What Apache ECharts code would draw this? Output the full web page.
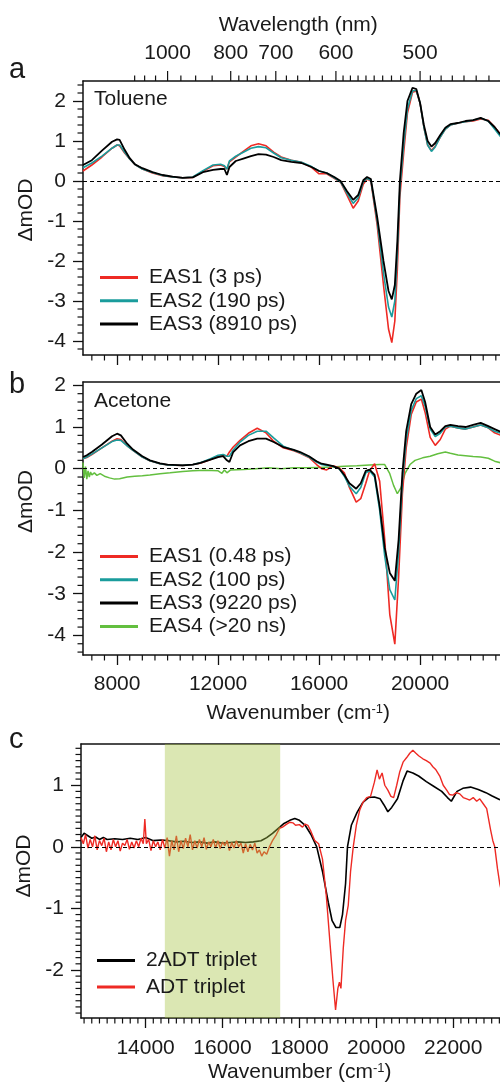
<!DOCTYPE html>
<html><head><meta charset="utf-8">
<script src="https://cdn.jsdelivr.net/npm/echarts@6/dist/echarts.min.js"></script>
<style>html,body{margin:0;padding:0;background:#fff}#c{width:500px;height:1085px}</style>
</head><body><div id="c"></div>
<script>
// ---------------- DATA ----------------
// Panel a (Toluene): wavenumber grid (cm-1) and EAS spectra (mOD)
const nuA = [6650,7000,7400,7800,8000,8100,8300,8500,8700,9000,9400,9800,10200,10600,11000,11400,11800,12100,12250,12350,12450,12700,13000,13300,13600,13900,14200,14500,14900,15300,15700,16000,16300,16600,16850,17100,17350,17550,17750,17900,18050,18300,18550,18750,18880,19000,19100,19200,19350,19500,19700,19850,20000,20150,20300,20450,20600,20800,21000,21200,21500,21800,22100,22400,22700,22950,23200,23450,23700];
const eas1A = [.25,.40,.60,.82,.90,.88,.70,.55,.42,.30,.20,.13,.10,.08,.09,.24,.38,.40,.36,.30,.48,.60,.74,.88,.93,.88,.72,.60,.52,.47,.34,.18,.18,.07,-.03,-.35,-.68,-.50,-.08,.05,.00,-1.1,-2.6,-3.7,-4.04,-3.5,-2.2,-.4,.7,1.7,2.22,2.25,1.95,1.35,.9,.76,.87,1.1,1.3,1.4,1.45,1.48,1.5,1.55,1.52,1.35,1.15,1.05,1.0];
const eas2A = [.33,.45,.62,.82,.90,.90,.72,.55,.42,.30,.21,.14,.10,.08,.10,.26,.40,.42,.38,.30,.50,.62,.72,.82,.86,.83,.70,.58,.52,.47,.36,.25,.20,.08,-.02,-.30,-.56,-.42,-.02,.07,.02,-1.0,-2.3,-3.15,-3.4,-3.0,-1.8,-.2,.9,1.8,2.25,2.27,1.95,1.35,.9,.74,.85,1.1,1.3,1.4,1.45,1.48,1.52,1.57,1.5,1.3,1.1,1.0,.95];
const eas3A = [.40,.52,.76,.98,1.04,1.03,.78,.57,.42,.32,.22,.15,.11,.08,.09,.22,.28,.30,.30,.15,.35,.50,.56,.62,.67,.66,.60,.52,.48,.45,.35,.25,.20,.10,.00,-.25,-.47,-.35,.02,.10,.05,-.9,-2.0,-2.75,-2.96,-2.6,-1.5,0,1.2,2.0,2.33,2.3,1.95,1.4,1.0,.86,.95,1.15,1.33,1.42,1.45,1.5,1.52,1.58,1.5,1.35,1.15,1.05,1.0];

// Panel b (Acetone)
const nuB = [6650,6800,7000,7400,7800,8000,8150,8400,8630,9000,9300,9700,10000,10600,11000,11300,11700,12000,12200,12350,12450,12600,12870,13200,13550,13900,14200,14580,15000,15250,15600,15900,16100,16300,16550,16800,17000,17200,17470,17650,17850,18000,18200,18400,18600,18800,19000,19150,19300,19450,19650,19850,20050,20200,20400,20600,20800,21000,21200,21500,21800,22100,22400,22700,22950,23200,23450,23700];
const eas1B = [.24,.27,.34,.50,.66,.72,.70,.55,.44,.28,.19,.12,.09,.08,.10,.13,.22,.30,.33,.30,.40,.52,.68,.85,.97,.86,.66,.50,.43,.37,.27,.10,.00,-.03,.07,.02,-.10,-.45,-.80,-.72,-.35,-.05,.12,-.30,-1.7,-3.5,-4.21,-2.6,-.6,.5,1.3,1.6,1.67,1.35,.75,.56,.7,.95,1.02,.98,.95,1.0,1.05,.98,.86,.8,.75,.75];
const eas2B = [.24,.28,.35,.50,.65,.69,.68,.55,.44,.28,.19,.12,.09,.08,.10,.14,.24,.32,.34,.30,.30,.45,.64,.80,.90,.90,.74,.54,.44,.38,.28,.16,.10,.08,.06,.00,-.18,-.42,-.60,-.45,-.10,-.05,-.20,-1.0,-2.1,-2.9,-3.15,-2.0,-.3,.7,1.4,1.68,1.75,1.5,.95,.77,.85,1.0,1.02,.98,.95,1.0,1.05,.98,.9,.85,.8,.8];
const eas3B = [.28,.32,.40,.58,.78,.84,.80,.60,.46,.30,.20,.13,.10,.08,.10,.14,.22,.28,.30,.20,.16,.40,.56,.66,.72,.72,.64,.52,.45,.40,.30,.18,.12,.10,.06,.00,-.15,-.35,-.48,-.35,-.05,-.02,-.15,-.9,-1.9,-2.5,-2.69,-1.7,-.1,.9,1.55,1.8,1.89,1.6,1.0,.82,.9,1.02,1.05,1.02,1.0,1.05,1.1,1.02,.95,.88,.85,.85];
const nuB4 = [6650,6700,6750,6800,6850,6900,6950,7000,7100,7200,7330,7500,7700,7900,8100,8400,8700,9000,9300,9700,10100,10600,11000,11500,12000,12150,12250,12350,12500,13000,13500,14000,14500,15000,15500,16000,16500,17000,17500,18000,18400,18600,18800,18950,19100,19250,19400,19600,19800,20100,20400,20700,21000,21200,21500,21800,22100,22400,22700,22950,23200,23450,23700];
const eas4B = [0.15,-0.22,0.05,-0.25,-0.05,-0.2,-0.08,-0.15,-0.1,-0.16,-0.12,-0.18,-0.22,-0.25,-0.24,-0.2,-0.18,-0.17,-0.15,-0.12,-0.1,-0.07,-0.05,-0.04,-0.05,-0.11,-0.03,-0.1,-0.03,-0.02,0,0.02,0,0.02,0.02,0.03,0.04,0.06,0.07,0.09,0.1,0.1,-0.12,-0.4,-0.6,-0.45,-0.12,0.1,0.2,0.26,0.3,0.36,0.4,0.37,0.33,0.31,0.29,0.28,0.25,0.18,0.14,0.12,0.1];

// Panel c (triplet spectra)
const nuC1 = [12320,12400,12500,12600,12700,12800,12900,13000,13200,13400,13600,13800,14000,14200,14400,14600,14800,15000,15200,15400,15600,15800,16000,16200,16400,16600,16800,17000,17150,17300,17450,17600,17750,17880,18000,18150,18300,18450,18600,18750,18850,18950,19050,19120,19200,19250,19350,19500,19650,19800,19950,20100,20200,20300,20400,20550,20700,20800,20950,21100,21300,21500,21700,21850,21950,22100,22250,22450,22650,22850,23000,23200,23450,23700];
const trip2ADT = [0.15,0.22,0.18,0.14,0.16,0.12,0.15,0.12,0.13,0.12,0.14,0.12,0.15,0.1,0.11,0.1,0.08,0.09,0.07,0.08,0.06,0.08,0.06,0.07,0.08,0.07,0.08,0.1,0.15,0.22,0.3,0.38,0.43,0.46,0.43,0.35,0.2,0,-0.4,-0.9,-1.2,-1.31,-1.31,-1.1,-0.6,0,0.35,0.56,0.72,0.8,0.81,0.78,0.68,0.57,0.64,0.78,1.08,1.23,1.2,1.15,1.06,0.98,0.9,0.8,0.74,0.9,0.95,0.97,0.93,0.88,0.83,0.77,0.72,0.7];
const tripADT = [[12320,0.15],[12380,0.05],[12440,0.2],[12500,-0.02],[12560,0.12],[12620,0.0],[12680,0.18],[12740,-0.05],[12800,0.1],[12860,0.02],[12920,0.14],[12980,-0.08],[13040,0.08],[13100,-0.05],[13160,0.12],[13220,0.0],[13280,0.1],[13340,-0.07],[13400,0.06],[13460,0.02],[13520,0.12],[13580,-0.04],[13640,0.08],[13700,-0.02],[13760,0.1],[13820,0.0],[13880,0.14],[13940,0.05],[13980,0.45],[14020,0.05],[14080,0.12],[14140,-0.06],[14200,0.1],[14260,0.0],[14320,0.08],[14380,-0.05],[14440,0.12],[14500,-0.02],[14560,0.15],[14620,-0.15],[14680,0.1],[14740,-0.05],[14800,0.18],[14860,-0.08],[14920,0.1],[14980,-0.03],[15040,0.14],[15100,0.0],[15160,0.2],[15220,-0.05],[15280,0.1],[15340,-0.02],[15400,0.12],[15460,0.0],[15520,0.15],[15580,-0.04],[15640,0.08],[15700,0.0],[15760,0.12],[15820,-0.02],[15880,0.1],[15940,-0.03],[16000,0.08],[16060,0.02],[16120,0.1],[16180,-0.06],[16240,0.07],[16300,-0.02],[16360,0.1],[16420,0.0],[16480,0.06],[16540,-0.1],[16600,0.05],[16660,-0.08],[16720,0.04],[16780,-0.05],[16840,0.06],[16900,-0.1],[16960,-0.05],[17020,-0.15],[17080,-0.08],[17150,-0.12],[17220,0.0],[17300,0.1],[17400,0.2],[17480,0.3],[17560,0.32],[17650,0.36],[17750,0.4],[17830,0.39],[17900,0.35],[18000,0.36],[18080,0.32],[18150,0.37],[18220,0.35],[18300,0.25],[18400,0.1],[18500,0.05],[18600,-0.2],[18700,-0.8],[18800,-1.6],[18870,-2.15],[18940,-2.65],[19000,-2.3],[19040,-2.2],[19080,-2.3],[19140,-1.65],[19200,-1.2],[19270,-0.95],[19330,-0.4],[19400,0.0],[19480,0.35],[19570,0.6],[19650,0.72],[19750,0.8],[19850,0.82],[19950,1.05],[20020,1.25],[20080,1.1],[20150,1.2],[20220,1.0],[20300,0.92],[20380,0.82],[20450,0.8],[20530,1.0],[20610,1.22],[20700,1.38],[20790,1.45],[20870,1.52],[20950,1.57],[21030,1.52],[21100,1.48],[21210,1.43],[21300,1.4],[21400,1.36],[21470,1.3],[21550,1.25],[21650,1.15],[21740,1.0],[21830,0.92],[21900,0.85],[21990,0.84],[22080,0.88],[22170,0.86],[22260,0.8],[22350,0.78],[22430,0.76],[22520,0.8],[22610,0.74],[22690,0.78],[22780,0.7],[22870,0.62],[22920,0.45],[22970,0.28],[23030,0.1],[23080,0.0],[23150,-0.35],[23210,-0.6],[23300,-0.85],[23400,-1.0],[23550,-1.1],[23700,-1.1]];
const bandC = [14500, 17500];

// Names
const namesA = ['EAS1 (3 ps)', 'EAS2 (190 ps)', 'EAS3 (8910 ps)'];
const namesB = ['EAS1 (0.48 ps)', 'EAS2 (100 ps)', 'EAS3 (9220 ps)', 'EAS4 (>20 ns)'];
const namesC = ['2ADT triplet', 'ADT triplet'];

// Ticks
const xMajorAB = [8000, 12000, 16000, 20000];
const xMajorC = [14000, 16000, 18000, 20000, 22000];
const yMajorAB = [-4, -3, -2, -1, 0, 1, 2];
const yMajorC = [-2, -1, 0, 1];
const wlMajor = [1000, 800, 700, 600, 500];
const wlMinor = [1150,1100,1050,950,900,850,780,760,740,720,680,660,640,620,590,580,570,560,550,540,530,520,510,490,480,470,460,450,440,430];

// ---------------- HELPERS ----------------
const FONT = '"Liberation Sans", Arial, Helvetica, sans-serif';
const TXT = '#1a1a1a';
const AX = '#111';
const RED = '#ee2a24', TEAL = '#1a9c9c', BLACK = '#000000', GREEN = '#63bf3f';
const rangeA = {xmin: 6650, xmax: 23700, ymin: -4.35, ymax: 2.5};
const rangeB = {xmin: 6650, xmax: 23700, ymin: -4.47, ymax: 2.08};
const rangeC = {xmin: 12320, xmax: 23700, ymin: -2.78, ymax: 1.67};

function steps(from, to, step, skipEvery) {
  const out = [];
  const n = Math.round((to - from) / step);
  for (let i = 0; i <= n; i++) {
    const v = +(from + i * step).toFixed(4);
    if (Math.abs(v / skipEvery - Math.round(v / skipEvery)) > 1e-6) out.push(v);
  }
  return out;
}
const xMinorAB = steps(7000, 23500, 500, 4000);
const xMinorC = steps(12400, 23600, 200, 2000);
const yMinorA = steps(-4.2, 2.4, 0.2, 1);
const yMinorB = steps(-4.4, 2.0, 0.2, 1);
const yMinorC = steps(-2.7, 1.6, 0.1, 1);

const zip = (xs, ys) => xs.map((x, i) => [x, ys[i]]);
const lineStyleAxis = {show: true, onZero: false, lineStyle: {color: AX, width: 1.5}};
const labelStyle = {color: TXT, fontSize: 21, fontFamily: FONT};

function xAx(grid, r, pos, opts) {
  return Object.assign({
    type: 'value', gridIndex: grid, position: pos, min: r.xmin, max: r.xmax,
    axisLine: lineStyleAxis, splitLine: {show: false},
    axisTick: {show: false}, axisLabel: {show: false}
  }, opts || {});
}
function yAx(grid, r, majors, gapPad) {
  return {
    type: 'value', gridIndex: grid, min: r.ymin, max: r.ymax,
    axisLine: lineStyleAxis, splitLine: {show: false},
    axisTick: {show: true, length: 10, customValues: majors, lineStyle: {color: AX, width: 1.3}},
    axisLabel: Object.assign({show: true, customValues: majors, margin: 17, formatter: v => String(v)}, labelStyle),
    name: 'ΔmOD', nameLocation: 'middle', nameGap: 43,
    nameTextStyle: Object.assign({padding: [0, 0, 0, gapPad]}, labelStyle)
  };
}
const wnName = 'Wavenumber (cm{sup|-1})';
const wnNameStyle = Object.assign({rich: {sup: {fontSize: 13, fontFamily: FONT, color: TXT, verticalAlign: 'top', lineHeight: 14}}}, labelStyle);

function xMinorSeries(xi, yi, vals, y0, len) {
  return {
    type: 'custom', xAxisIndex: xi, yAxisIndex: yi, silent: true, clip: false, z: 5,
    data: vals.map(v => [v, y0]),
    renderItem: (p, api) => {
      const c = api.coord([api.value(0), api.value(1)]);
      return {type: 'line', shape: {x1: c[0], y1: c[1], x2: c[0], y2: c[1] + len}, style: {stroke: AX, lineWidth: 1.2}};
    }
  };
}
function yMinorSeries(xi, yi, vals, x0, len) {
  return {
    type: 'custom', xAxisIndex: xi, yAxisIndex: yi, silent: true, clip: false, z: 5,
    data: vals.map(v => [x0, v]),
    renderItem: (p, api) => {
      const c = api.coord([api.value(0), api.value(1)]);
      return {type: 'line', shape: {x1: c[0], y1: c[1], x2: c[0] - len, y2: c[1]}, style: {stroke: AX, lineWidth: 1.2}};
    }
  };
}
function lineSeries(name, xi, yi, data, color, width, z) {
  return {
    name: name, type: 'line', xAxisIndex: xi, yAxisIndex: yi, data: data,
    showSymbol: false, symbol: 'none', color: color, itemStyle: {color: color},
    lineStyle: {color: color, width: width}, z: z || 2, silent: true, animation: false
  };
}
function zeroLine(s) {
  s.markLine = {silent: true, symbol: ['none', 'none'], label: {show: false},
    lineStyle: {color: '#000', type: [4, 3], width: 1.2}, data: [{yAxis: 0}], animation: false};
  return s;
}
function legendOf(names, left, top, gap) {
  return {
    data: names, orient: 'vertical', left: left, top: top, padding: 0, z: 10,
    itemWidth: 38, itemHeight: 3, itemGap: gap, icon: 'rect', selectedMode: false,
    textStyle: {color: TXT, fontSize: 21, fontFamily: FONT, padding: [0, 0, 0, 6]}
  };
}

// wavelength ticks on top of panel a (converted to wavenumber via 1e7 / nm)
const wlData = wlMajor.map(l => [1e7 / l, rangeA.ymax, l, 1]).concat(wlMinor.map(l => [1e7 / l, rangeA.ymax, l, 0]));

const series = [
  // Panel a
  zeroLine(lineSeries(namesA[0], 0, 0, zip(nuA, eas1A), RED, 1.6, 2)),
  lineSeries(namesA[1], 0, 0, zip(nuA, eas2A), TEAL, 1.6, 3),
  lineSeries(namesA[2], 0, 0, zip(nuA, eas3A), BLACK, 1.8, 4),
  // Panel b
  zeroLine(lineSeries(namesB[3], 2, 1, zip(nuB4, eas4B), GREEN, 1.5, 2)),
  lineSeries(namesB[0], 2, 1, zip(nuB, eas1B), RED, 1.6, 3),
  lineSeries(namesB[1], 2, 1, zip(nuB, eas2B), TEAL, 1.6, 4),
  lineSeries(namesB[2], 2, 1, zip(nuB, eas3B), BLACK, 1.8, 5),
  // Panel c
  zeroLine(lineSeries(namesC[0], 4, 2, zip(nuC1, trip2ADT), BLACK, 1.6, 2)),
  lineSeries(namesC[1], 4, 2, tripADT, RED, 1.4, 3),
  {
    type: 'custom', xAxisIndex: 4, yAxisIndex: 2, silent: true, z: 3.5,
    data: [[bandC[0], bandC[1]]],
    renderItem: (p, api) => {
      const a = api.coord([api.value(0), rangeC.ymax]);
      const b = api.coord([api.value(1), rangeC.ymin]);
      return {type: 'rect', shape: {x: a[0], y: a[1], width: b[0] - a[0], height: b[1] - a[1]},
        style: {fill: 'rgba(166,196,64,0.40)'}};
    }
  },
  // minor ticks
  xMinorSeries(0, 0, xMinorAB, rangeA.ymin, 5.5),
  yMinorSeries(0, 0, yMinorA, rangeA.xmin, 5.5),
  xMinorSeries(2, 1, xMinorAB, rangeB.ymin, 5.5),
  yMinorSeries(2, 1, yMinorB, rangeB.xmin, 5.5),
  xMinorSeries(4, 2, xMinorC, rangeC.ymin, 5.5),
  yMinorSeries(4, 2, yMinorC, rangeC.xmin, 5.5),
  // wavelength ticks + labels
  {
    type: 'custom', xAxisIndex: 0, yAxisIndex: 0, silent: true, clip: false, z: 5,
    data: wlData,
    renderItem: (p, api) => {
      const c = api.coord([api.value(0), api.value(1)]);
      const major = api.value(3) === 1;
      const children = [{type: 'line', shape: {x1: c[0], y1: c[1], x2: c[0], y2: c[1] - (major ? 10 : 5.5)},
        style: {stroke: AX, lineWidth: 1.2}}];
      if (major) children.push({type: 'text', style: {text: String(api.value(2)), x: c[0], y: c[1] - 28,
        align: 'center', verticalAlign: 'middle', fontSize: 21, fontFamily: FONT, fill: TXT}});
      return {type: 'group', children: children};
    }
  }
];

const option = {
  animation: false,
  backgroundColor: '#ffffff',
  title: [
    {text: 'a', left: 9, top: 55, padding: 0, textStyle: {fontSize: 29, fontWeight: 'normal', color: TXT, fontFamily: FONT}},
    {text: 'b', left: 9, top: 370, padding: 0, textStyle: {fontSize: 29, fontWeight: 'normal', color: TXT, fontFamily: FONT}},
    {text: 'c', left: 9, top: 725, padding: 0, textStyle: {fontSize: 29, fontWeight: 'normal', color: TXT, fontFamily: FONT}}
  ],
  graphic: [
    {type: 'text', left: 94, top: 89, style: {text: 'Toluene', fontSize: 21, fontFamily: FONT, fill: TXT}},
    {type: 'text', left: 94, top: 391, style: {text: 'Acetone', fontSize: 21, fontFamily: FONT, fill: TXT}}
  ],
  legend: [
    legendOf(namesA, 100, 267, 2.3),
    legendOf(namesB, 100, 546, 2.3),
    legendOf(namesC, 97, 950, 5.6)
  ],
  grid: [
    {left: 83, top: 81, width: 430.5, height: 274, outerBoundsMode: 'none', containLabel: false},
    {left: 83, top: 382, width: 430.5, height: 273, outerBoundsMode: 'none', containLabel: false},
    {left: 81, top: 744, width: 437.6, height: 274, outerBoundsMode: 'none', containLabel: false}
  ],
  xAxis: [
    xAx(0, rangeA, 'bottom', {axisTick: {show: true, length: 10, customValues: xMajorAB, lineStyle: {color: AX, width: 1.3}}}),
    xAx(0, rangeA, 'top', {name: 'Wavelength (nm)', nameLocation: 'middle', nameGap: 45, nameTextStyle: labelStyle}),
    xAx(1, rangeB, 'bottom', {
      axisTick: {show: true, length: 10, customValues: xMajorAB, lineStyle: {color: AX, width: 1.3}},
      axisLabel: Object.assign({show: true, customValues: xMajorAB, margin: 19, formatter: v => String(v)}, labelStyle),
      name: wnName, nameLocation: 'middle', nameGap: 48, nameTextStyle: wnNameStyle
    }),
    xAx(1, rangeB, 'top'),
    xAx(2, rangeC, 'bottom', {
      axisTick: {show: true, length: 10, customValues: xMajorC, lineStyle: {color: AX, width: 1.3}},
      axisLabel: Object.assign({show: true, customValues: xMajorC, margin: 20, formatter: v => String(v)}, labelStyle),
      name: wnName, nameLocation: 'middle', nameGap: 44, nameTextStyle: wnNameStyle
    }),
    xAx(2, rangeC, 'top')
  ],
  yAxis: [
    yAx(0, rangeA, yMajorAB, 16),
    yAx(1, rangeB, yMajorAB, 34),
    yAx(2, rangeC, yMajorC, 30)
  ],
  series: series
};

const chart = echarts.init(document.getElementById('c'), null, {renderer: 'canvas'});
chart.setOption(option);
</script>
</body></html>
